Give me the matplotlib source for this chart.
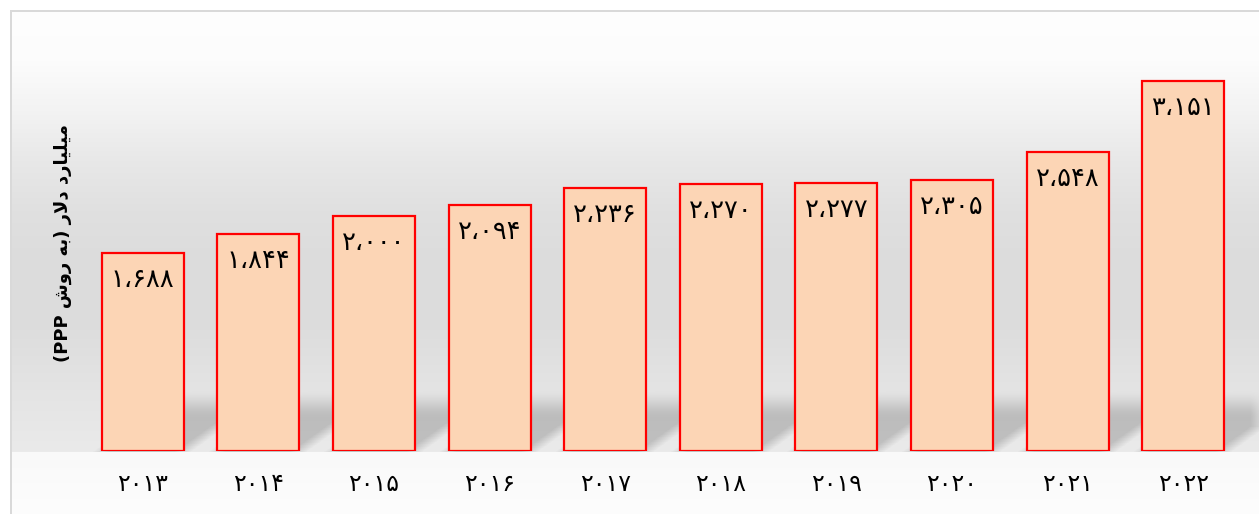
import numpy as np
import matplotlib
matplotlib.use("Agg")
import matplotlib.pyplot as plt

# --- data ---
years = [2013, 2014, 2015, 2016, 2017, 2018, 2019, 2020, 2021, 2022]
values = [1688, 1844, 2000, 2094, 2236, 2270, 2277, 2305, 2548, 3151]

# y label "میلیارد دلار (به روش PPP)" in visual order with arabic presentation forms
# (matplotlib does no shaping / bidi on its own)
YLABEL = ("(PPP "
          "\ufeb5\ufeed\ufead "          # روش
          "\ufeea\ufe91) "               # به
          "\ufead\ufefb\ufea9 "          # دلار
          "\ufea9\ufead\ufe8e\ufef4\ufee0\ufef4\ufee3")  # میلیارد

FA_DIGITS = str.maketrans("0123456789,", "۰۱۲۳۴۵۶۷۸۹،")


def fa(text):
    return str(text).translate(FA_DIGITS)


W, H = 1259, 514
BAR_FILL = "#fcd5b5"
BAR_EDGE = "#ff0000"

plt.rcParams["font.family"] = ["DejaVu Sans"]

fig = plt.figure(figsize=(W / 100, H / 100), dpi=100)

# axes placed in pixels: baseline at y=451, categories from x=85 to 1241
base_y = 451
top_y = 30
ax = fig.add_axes([85 / W, (H - base_y) / H, (1241 - 85) / W, (base_y - top_y) / H])
ax.set_xlim(-0.5, len(years) - 0.5)
ax.set_ylim(0, (base_y - top_y) / 0.1175)
ax.patch.set_alpha(0)

x = np.arange(len(years))
bars = ax.bar(x, values, width=0.71, color=BAR_FILL, edgecolor=BAR_EDGE,
              linewidth=1.6, zorder=3)

for xi, v in zip(x, values):
    ax.annotate(fa(f"{v:,}"), (xi, v), xytext=(0, -27), textcoords="offset pixels",
                ha="center", va="center", fontsize=18.5, color="black", zorder=4)

ax.set_xticks(x)
ax.set_xticklabels([fa(y) for y in years], fontsize=17)
ax.tick_params(axis="x", length=0, pad=15)
ax.set_yticks([])
for s in ax.spines.values():
    s.set_visible(False)

fig.text(63 / W, 1 - 243 / H, YLABEL, rotation=90, ha="center", va="center",
         fontsize=13, fontweight="bold", color="black")

# --- background: gradient panel + floor shadow behind the bars ---
yy = np.arange(H)
g = np.interp(yy, [10, 60, 110, 160, 210, 260, 330, 390, base_y],
              [254, 252, 243, 232, 224, 220, 221, 228, 234])
below = np.interp(yy, [base_y + 1, H], [249, 253])
g = np.where(yy > base_y, below, g)
img = np.repeat(g[:, None], W, axis=1)

shade = np.zeros((H, W))
fig.canvas.draw()
for b in bars:
    (x0, _), (x1, _) = ax.transData.transform([(b.get_x(), 0), (b.get_x() + b.get_width(), 0)])
    for row in range(380, base_y + 1):
        t = base_y - row
        lo = int(x0 + 1.4 * t)
        hi = int(min(W, x1 + 1.4 * t))
        if hi > lo:
            shade[row, max(lo, 0):hi] = 1.0
# soften
kx = np.ones(17) / 17
shade = np.apply_along_axis(lambda r: np.convolve(r, kx, mode="same"), 1, shade)
prof = np.clip((yy - 388) / 30.0, 0, 1)
prof = prof * prof * (3 - 2 * prof)
prof = np.where(yy > base_y, 0, prof)
img = img - 42 * shade * prof[:, None]

img[:10, :] = 255
img[:, :10] = 255
img[10:12, 10:] = 217
img[10:, 10:12] = 217

bg = fig.add_axes([0, 0, 1, 1], zorder=-1)
bg.imshow(np.dstack([img] * 3).astype(np.uint8), aspect="auto", interpolation="nearest")
bg.axis("off")

fig.savefig("out.png", dpi=100)
